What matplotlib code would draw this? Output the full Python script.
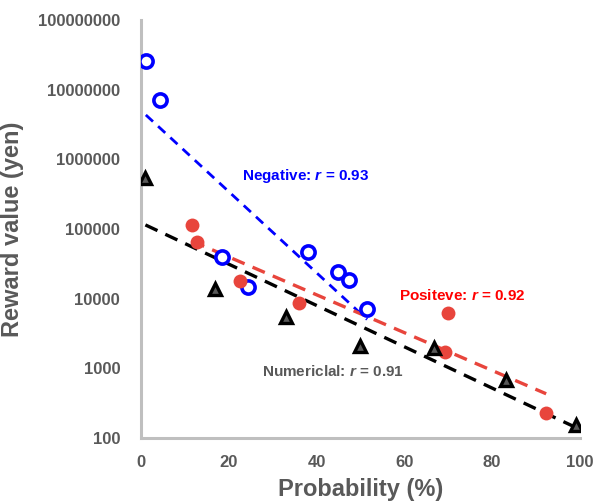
import numpy as np
import matplotlib
matplotlib.use("Agg")
import matplotlib.pyplot as plt
from matplotlib.ticker import FixedLocator, FuncFormatter

plt.rcParams['font.family'] = ['Liberation Sans', 'DejaVu Sans']
plt.rcParams['font.weight'] = 'bold'
plt.rcParams['mathtext.fontset'] = 'custom'
plt.rcParams['mathtext.it'] = 'Liberation Sans:italic:bold'
plt.rcParams['mathtext.rm'] = 'Liberation Sans:bold'

# probability (%) vs. reward value (yen) for each condition
neg_prob = [1.1, 4.3, 18.5, 24.4, 38.0, 44.9, 47.4, 51.5]
neg_value = [2.6e7, 7.1e6, 4.0e4, 1.48e4, 4.7e4, 2.4e4, 1.86e4, 7.1e3]

pos_prob = [11.6, 12.8, 22.6, 36.0, 69.9, 69.2, 92.3]
pos_value = [1.14e5, 6.5e4, 1.8e4, 8.7e3, 6.3e3, 1.7e3, 230]

num_prob = [1.0, 16.9, 33.0, 49.9, 66.7, 83.1, 99.0]
num_value = [5.4e5, 1.38e4, 5.5e3, 2.1e3, 1.97e3, 684, 155]

x_ticks = [0, 20, 40, 60, 80, 100]
y_ticks = [1e2, 1e3, 1e4, 1e5, 1e6, 1e7, 1e8]

gray = '#595959'
blue = '#0000FF'
red = '#E8453C'


def exp_trend(x, y):
    # exponential trendline: linear fit of log10(y) over the data's x range
    k, b = np.polyfit(x, np.log10(y), 1)
    xs = np.linspace(min(x), max(x), 100)
    return xs, 10 ** (k * xs + b)


fig = plt.figure(figsize=(5.93, 5.01), dpi=100)
ax = fig.add_axes([0.2378, 0.1257, 0.978 - 0.2378, 0.960 - 0.1257])

xs, ys = exp_trend(neg_prob, neg_value)
ax.plot(xs, ys, color=blue, lw=2.0, ls=(0, (3.5, 2.5)), zorder=2)
xs, ys = exp_trend(pos_prob, pos_value)
ax.plot(xs, ys, color=red, lw=2.4, ls=(0, (4, 2.6)), zorder=2)
xs, ys = exp_trend(num_prob, num_value)
ax.plot(xs, ys, color='black', lw=2.4, ls=(0, (4, 2.6)), zorder=2)

ax.plot(neg_prob, neg_value, 'o', ms=9.5, mfc='white', mec=blue, mew=2.6, zorder=4)
ax.plot(pos_prob, pos_value, 'o', ms=10, mfc=red, mec=red, mew=0, zorder=4)
ax.plot(num_prob, num_value, '^', ms=9, mfc=gray, mec='black', mew=2.4, zorder=4)

ax.text(23.0, 5.8e5, 'Negative: $r$ = 0.93', color=blue, fontsize=11,
        fontweight='bold', va='center', ha='left')
ax.text(58.8, 1.1e4, 'Positeve: $r$ = 0.92', color='#FF0000', fontsize=11,
        fontweight='bold', va='center', ha='left')
ax.text(27.6, 890, 'Numericlal: $r$ = 0.91', color=gray, fontsize=11,
        fontweight='bold', va='center', ha='left')

ax.set_yscale('log')
ax.set_xlim(0, 100)
ax.set_ylim(100, 1e8)
ax.xaxis.set_major_locator(FixedLocator(x_ticks))
ax.yaxis.set_major_locator(FixedLocator(y_ticks))
ax.yaxis.set_minor_locator(FixedLocator([]))
ax.yaxis.set_major_formatter(FuncFormatter(lambda v, p: f'{int(round(v))}'))
ax.tick_params(axis='both', length=0, labelsize=12, labelcolor=gray)
ax.tick_params(axis='y', pad=15)
ax.tick_params(axis='x', pad=12)
for lab in ax.get_xticklabels() + ax.get_yticklabels():
    lab.set_fontweight('bold')

for side in ['top', 'right']:
    ax.spines[side].set_visible(False)
for side in ['left', 'bottom']:
    ax.spines[side].set_color('#BFBFBF')
    ax.spines[side].set_linewidth(2.2)

ax.set_xlabel('Probability (%)', fontsize=17, fontweight='bold', color=gray, labelpad=6)
ax.set_ylabel('Reward value (yen)', fontsize=17, fontweight='bold', color=gray, labelpad=10)

fig.savefig('out.png', dpi=100)
